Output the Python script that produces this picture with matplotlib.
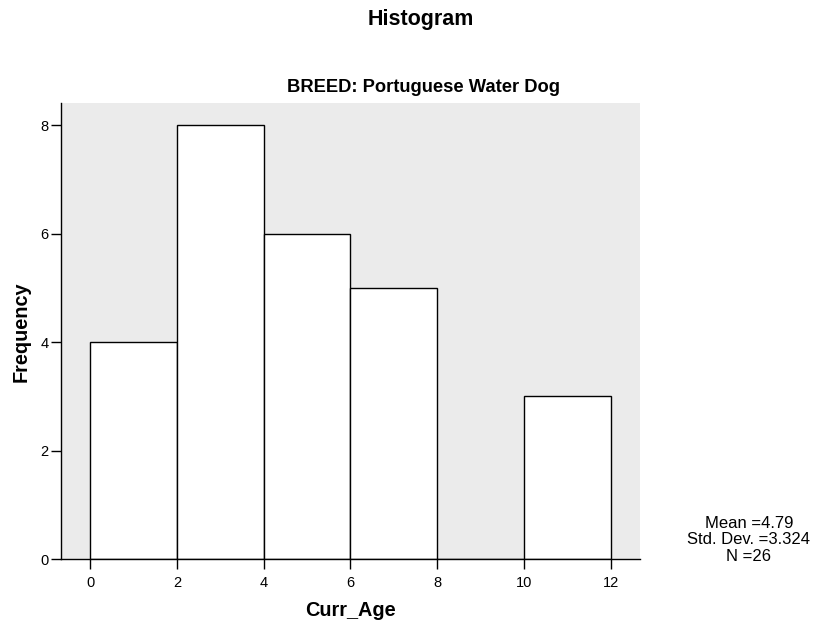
import matplotlib
matplotlib.use("Agg")
import matplotlib.pyplot as plt

bin_edges = [0, 2, 4, 6, 8, 10, 12]
frequencies = [4, 8, 6, 5, 0, 3]
x_ticks = [0, 2, 4, 6, 8, 10, 12]
y_ticks = [0, 2, 4, 6, 8]
stats_text = "Mean =4.79\nStd. Dev. =3.324\nN =26"

plt.rcParams['font.family'] = ['Liberation Sans', 'DejaVu Sans']

fig = plt.figure(figsize=(8.13, 6.24), dpi=100)
ax = fig.add_axes([0.075, 0.104, 0.712, 0.731])
ax.set_facecolor('#ebebeb')

lefts = bin_edges[:-1]
widths = [bin_edges[i + 1] - bin_edges[i] for i in range(len(lefts))]
ax.bar(lefts, frequencies, width=widths, align='edge', color='white',
       edgecolor='black', linewidth=1.0)

ax.set_xlim(-0.67, 12.67)
ax.set_ylim(0, 8.41)
ax.set_xticks(x_ticks)
ax.set_yticks(y_ticks)
ax.tick_params(axis='both', direction='out', length=7, width=1, labelsize=10.5, colors='black')
ax.tick_params(axis='x', pad=5.5)
ax.tick_params(axis='y', pad=2)
for s in ['top', 'right']:
    ax.spines[s].set_visible(False)
for s in ['left', 'bottom']:
    ax.spines[s].set_linewidth(1.0)

ax.set_xlabel('Curr_Age', fontsize=14.3, fontweight='bold', va='center')
ax.xaxis.set_label_coords(0.50, -0.112)
ax.set_ylabel('Frequency', fontsize=14.3, fontweight='bold', va='center')
ax.yaxis.set_label_coords(-0.069, 0.498)

fig.text(0.5215, 1 - 87 / 624, 'BREED: Portuguese Water Dog', ha='center', va='center',
         fontsize=13.2, fontweight='bold')
fig.text(0.518, 1 - 20 / 624, 'Histogram', ha='center', va='center', fontsize=15.5, fontweight='bold')
fig.text(0.921, 1 - 540 / 624, stats_text, ha='center', va='center', fontsize=12, linespacing=1.1)

fig.savefig('out.png', dpi=100)
